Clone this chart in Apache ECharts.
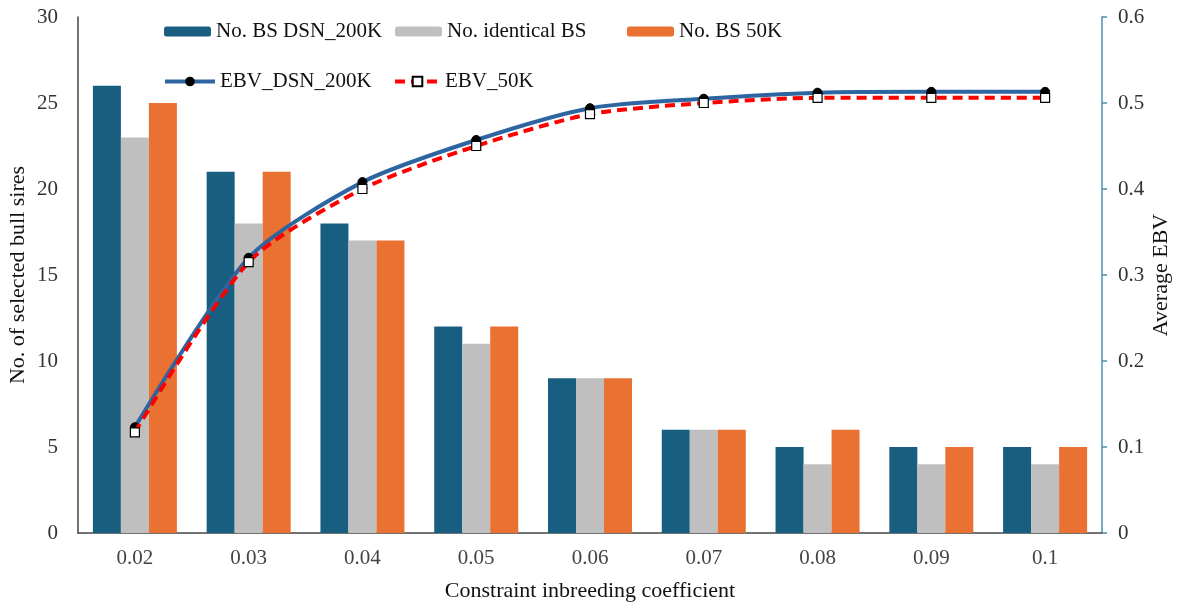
<!DOCTYPE html>
<html><head><meta charset="utf-8">
<script src="https://cdn.jsdelivr.net/npm/echarts@6/dist/echarts.min.js"></script>
<style>html,body{margin:0;padding:0;background:#fff}#c{width:1185px;height:608px}</style>
</head><body><div id="c"></div>
<script>
const categories = ['0.02','0.03','0.04','0.05','0.06','0.07','0.08','0.09','0.1'];
const bsDSN200K = [26, 21, 18, 12, 9, 6, 5, 5, 5];
const identicalBS = [23, 18, 17, 11, 9, 6, 4, 4, 4];
const bs50K = [25, 21, 17, 12, 9, 6, 6, 5, 5];
const ebvDSN200K = [0.123, 0.320, 0.408, 0.457, 0.494, 0.505, 0.512, 0.513, 0.513];
const ebv50K = [0.117, 0.315, 0.400, 0.450, 0.487, 0.500, 0.506, 0.506, 0.506];
const leftTicks = [0, 5, 10, 15, 20, 25, 30];
const rightTicks = [0, 0.1, 0.2, 0.3, 0.4, 0.5, 0.6];

const FONT = 'Liberation Serif';
function lg(name, left, top, w, h, extra) {
  return Object.assign({data: [name], left: left, top: top, itemWidth: w, itemHeight: h, itemGap: 0,
    textStyle: {fontFamily: FONT, fontSize: 21, color: '#111'}, padding: 0}, extra || {});
}
const chart = echarts.init(document.getElementById('c'));
chart.setOption({
  animation: false,
  backgroundColor: '#fff',
  grid: {left: 78, right: 83, top: 17, bottom: 75, containLabel: false, outerBoundsMode: 'none'},
  legend: [
    lg('No. BS DSN_200K', 164, 21, 47, 10),
    lg('No. identical BS', 395, 21, 47, 10),
    lg('No. BS 50K', 627, 21, 47, 10),
    lg('EBV_DSN_200K', 163, 71, 50, 12, {lineStyle: {width: 4}}),
    lg('EBV_50K', 393, 71, 45, 12, {lineStyle: {width: 4}})
  ],
  xAxis: {
    type: 'category', data: categories,
    name: 'Constraint inbreeding coefficient', nameLocation: 'middle', nameGap: 47,
    nameTextStyle: {fontFamily: FONT, fontSize: 22, color: '#111'},
    axisLine: {lineStyle: {color: '#444', width: 1.5}},
    axisTick: {show: false},
    axisLabel: {fontFamily: FONT, fontSize: 21, color: '#444', margin: 15}
  },
  yAxis: [{
    type: 'value', min: 0, max: 30, interval: 5,
    name: 'No. of selected bull sires', nameLocation: 'middle', nameGap: 49, nameRotate: 90,
    nameMoveOverlap: false,
    nameTextStyle: {fontFamily: FONT, fontSize: 22, color: '#111'},
    axisLine: {show: true, lineStyle: {color: '#444', width: 1.5}},
    axisTick: {show: false},
    splitLine: {show: false},
    axisLabel: {fontFamily: FONT, fontSize: 21, color: '#333', margin: 20,
      formatter: v => leftTicks.includes(v) ? String(v) : ''}
  }, {
    type: 'value', min: 0, max: 0.6, interval: 0.1, position: 'right',
    name: 'Average EBV', nameLocation: 'middle', nameGap: 70, nameRotate: 90,
    nameMoveOverlap: false,
    nameTextStyle: {fontFamily: FONT, fontSize: 22, color: '#111', verticalAlign: 'bottom'},
    axisLine: {show: true, lineStyle: {color: '#4d8fb0', width: 1.5}},
    axisTick: {show: true, length: 5, lineStyle: {color: '#4d8fb0', width: 1.5}},
    splitLine: {show: false},
    axisLabel: {fontFamily: FONT, fontSize: 21, color: '#333', margin: 16,
      formatter: v => { const r = rightTicks.find(t => Math.abs(t - v) < 1e-9); return r === undefined ? '' : String(r); }}
  }],
  series: [
    {name: 'No. BS DSN_200K', type: 'bar', data: bsDSN200K, barWidth: 28, barGap: '0%',
      itemStyle: {color: '#175e80'}},
    {name: 'No. identical BS', type: 'bar', data: identicalBS, barWidth: 28, barGap: '0%',
      itemStyle: {color: '#bfbfbf'}},
    {name: 'No. BS 50K', type: 'bar', data: bs50K, barWidth: 28, barGap: '0%',
      itemStyle: {color: '#e97132'}},
    {name: 'EBV_DSN_200K', type: 'line', yAxisIndex: 1, data: ebvDSN200K, smooth: 0.25,
      symbol: 'circle', symbolSize: 9,
      lineStyle: {color: '#2c65a0', width: 4},
      itemStyle: {color: '#000', borderColor: '#000'}, z: 5},
    {name: 'EBV_50K', type: 'line', yAxisIndex: 1, data: ebv50K, smooth: 0.25,
      symbol: 'rect', symbolSize: 9,
      lineStyle: {color: '#ff0000', width: 4, type: [10, 6]},
      itemStyle: {color: '#fff', borderColor: '#000', borderWidth: 1.2}, z: 6}
  ]
});
</script></body></html>
